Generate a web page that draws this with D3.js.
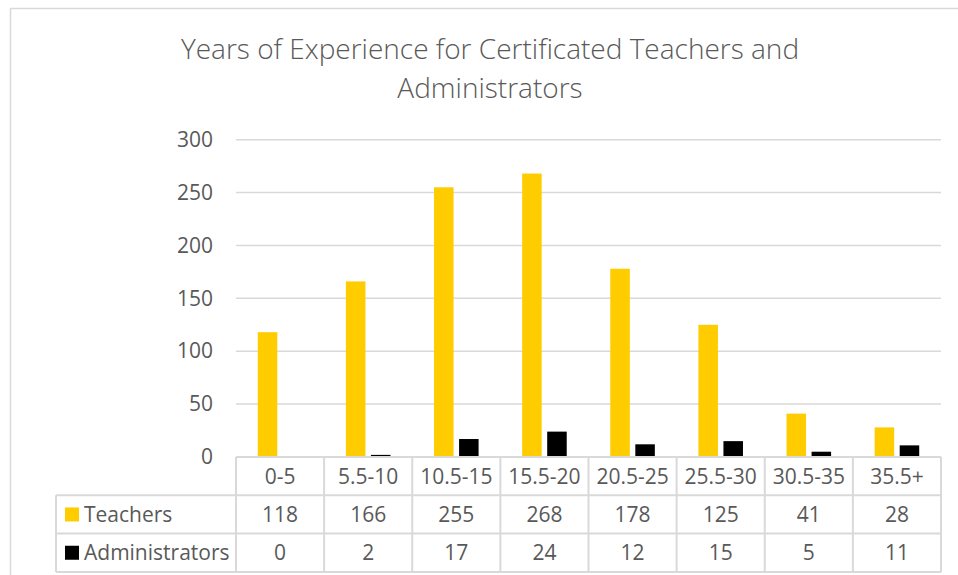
<!DOCTYPE html>
<html>
<head>
<script src="https://d3js.org/d3.v7.min.js"></script>
<style>
  body { margin: 0; background: #fff; }
  text { font-family: "Open Sans", sans-serif; fill: #595959; }
</style>
</head>
<body>
<script>
var categories = ['0-5', '5.5-10', '10.5-15', '15.5-20', '20.5-25', '25.5-30', '30.5-35', '35.5+'];
var seriesNames = ['Teachers', 'Administrators'];
var teachers = [118, 166, 255, 268, 178, 125, 41, 28];
var administrators = [0, 2, 17, 24, 12, 15, 5, 11];
var yTicks = [0, 50, 100, 150, 200, 250, 300];
var colors = ['#FFCC00', '#000000'];

var w = 958, h = 575;
var plotLeft = 236, plotRight = 941, plotTop = 139.7, plotBottom = 457;
var rowH = 38.3;
var tableLeft = 56;
var grid = '#d9d9d9';

var values = [teachers, administrators];

var svg = d3.select('body').append('svg')
    .attr('width', w)
    .attr('height', h);

// chart frame
svg.append('rect')
    .attr('x', 10.5).attr('y', 8.5)
    .attr('width', w).attr('height', h)
    .attr('fill', 'none')
    .attr('stroke', grid)
    .attr('stroke-width', 1.5);

// title
var title = svg.append('text')
    .attr('text-anchor', 'middle')
    .style('font-size', '28px')
    .style('font-weight', 300);
title.append('tspan').attr('x', 490).attr('y', 59)
    .text('Years of Experience for Certificated Teachers and');
title.append('tspan').attr('x', 490).attr('y', 98)
    .text('Administrators');

var x0 = d3.scaleBand().domain(categories).range([plotLeft, plotRight]);
var x1 = d3.scaleBand().domain(seriesNames)
    .range([0, x0.bandwidth()])
    .paddingInner(0.22)
    .paddingOuter(0.87);
var y = d3.scaleLinear().domain([0, 300]).range([plotBottom, plotTop]);

// gridlines
svg.append('g')
    .selectAll('line')
    .data(yTicks.filter(function (d) { return d > 0; }))
    .join('line')
    .attr('x1', plotLeft).attr('x2', plotRight)
    .attr('y1', function (d) { return y(d); })
    .attr('y2', function (d) { return y(d); })
    .attr('stroke', grid)
    .attr('stroke-width', 1.5);

// y axis
var yAxis = d3.axisLeft(y).tickValues(yTicks).tickSize(0).tickPadding(23);
var yg = svg.append('g')
    .attr('transform', 'translate(' + plotLeft + ',0)')
    .call(yAxis);
yg.select('.domain').remove();
yg.selectAll('text')
    .style('font-family', '"Open Sans", sans-serif')
    .style('font-size', '21px')
    .attr('fill', '#595959');

// bars
var groups = svg.append('g')
    .selectAll('g')
    .data(categories)
    .join('g')
    .attr('transform', function (d) { return 'translate(' + x0(d) + ',0)'; });

groups.selectAll('rect')
    .data(function (d, i) {
        return seriesNames.map(function (s, j) { return { s: s, v: values[j][i], c: colors[j] }; });
    })
    .join('rect')
    .attr('x', function (d) { return x1(d.s); })
    .attr('width', x1.bandwidth())
    .attr('y', function (d) { return y(d.v); })
    .attr('height', function (d) { return plotBottom - y(d.v); })
    .attr('fill', function (d) { return d.c; });

// data table
var table = svg.append('g');
var tBottom = plotBottom + rowH * 3;

table.append('line')
    .attr('x1', plotLeft).attr('x2', plotRight)
    .attr('y1', plotBottom).attr('y2', plotBottom);
[1, 2, 3].forEach(function (r) {
    table.append('line')
        .attr('x1', tableLeft).attr('x2', plotRight)
        .attr('y1', plotBottom + rowH * r).attr('y2', plotBottom + rowH * r);
});
table.append('line')
    .attr('x1', tableLeft).attr('x2', tableLeft)
    .attr('y1', plotBottom + rowH).attr('y2', tBottom);
categories.forEach(function (c) {
    table.append('line')
        .attr('x1', x0(c)).attr('x2', x0(c))
        .attr('y1', plotBottom).attr('y2', tBottom);
});
table.append('line')
    .attr('x1', plotRight).attr('x2', plotRight)
    .attr('y1', plotBottom).attr('y2', tBottom);
table.selectAll('line')
    .attr('stroke', grid)
    .attr('stroke-width', 2);

// category labels
table.selectAll('text.cat')
    .data(categories)
    .join('text')
    .attr('class', 'cat')
    .attr('x', function (d) { return x0(d) + x0.bandwidth() / 2; })
    .attr('y', plotBottom + rowH / 2)
    .attr('dy', '0.36em')
    .attr('text-anchor', 'middle')
    .style('font-size', '21px')
    .text(function (d) { return d; });

// legend rows with values
seriesNames.forEach(function (s, j) {
    var cy = plotBottom + rowH * (j + 1.5);
    table.append('rect')
        .attr('x', 65).attr('y', cy - 7)
        .attr('width', 14).attr('height', 14)
        .attr('fill', colors[j]);
    table.append('text')
        .attr('x', 84).attr('y', cy)
        .attr('dy', '0.36em')
        .style('font-size', '21px')
        .text(s);
    table.selectAll('text.v' + j)
        .data(values[j])
        .join('text')
        .attr('class', 'v' + j)
        .attr('x', function (d, i) { return x0(categories[i]) + x0.bandwidth() / 2; })
        .attr('y', cy)
        .attr('dy', '0.36em')
        .attr('text-anchor', 'middle')
        .style('font-size', '21px')
        .text(function (d) { return d; });
});
</script>
</body>
</html>
